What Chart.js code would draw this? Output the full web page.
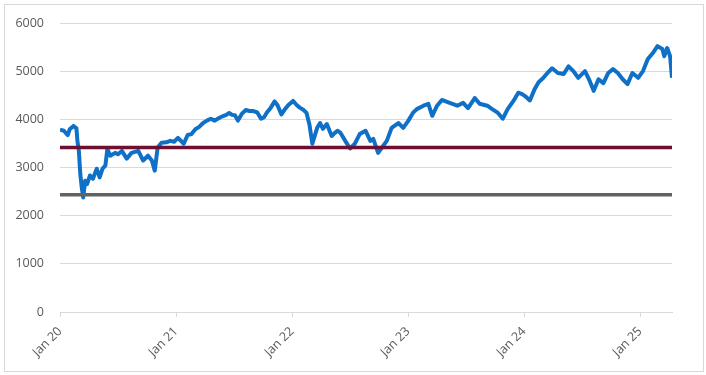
<!DOCTYPE html>
<html>
<head>
<meta charset="utf-8">
<script src="https://cdn.jsdelivr.net/npm/chart.js@4.4.1/dist/chart.umd.min.js"></script>
<style>
  body { margin: 0; background: #fff; }
  #wrap { position: relative; width: 706px; height: 375px; }
  #frame { position: absolute; left: 4px; top: 4px; width: 698px; height: 366px; border: 1px solid #d9d9d9; pointer-events: none; }
</style>
</head>
<body>
<div id="wrap">
  <canvas id="chart" width="706" height="375"></canvas>
  <div id="frame"></div>
</div>
<script>
// months since Jan 2020, index level
var months = [
  0, 0.4, 0.8, 1.0, 1.4, 1.7, 1.8, 1.95, 2.1, 2.25, 2.4, 2.6, 2.8, 3.1, 3.4, 3.8, 4.1, 4.4, 4.7, 4.9,
  5.2, 5.7, 6.0, 6.4, 6.9, 7.4, 8.1, 8.6, 9.1, 9.5, 9.8, 10.1, 10.5, 11.0, 11.4,
  11.8, 12.2, 12.8, 13.2, 13.6, 14.0, 14.4, 14.8, 15.2, 15.6, 16.0, 16.4, 16.8, 17.2, 17.5, 17.8,
  18.1, 18.4, 18.8, 19.2, 19.6, 20.0, 20.4, 20.8, 21.1, 21.4, 21.8, 22.2, 22.5, 22.9, 23.2, 23.6,
  24.1, 24.5, 24.8, 25.2, 25.5, 25.8, 26.1, 26.4, 26.6, 26.9, 27.2, 27.6, 28.1, 28.4, 28.7, 29.0,
  29.5, 30.0, 30.5, 31.0, 31.6, 32.1, 32.4, 32.9, 33.3, 33.8, 34.3, 35.0, 35.5,
  36.0, 36.5, 36.9, 37.6, 38.1, 38.5, 39.0, 39.5, 40.3, 41.1, 41.7, 42.2, 42.9, 43.4, 44.2, 44.7,
  45.3, 45.8, 46.3, 46.9, 47.4, 47.8,
  48.1, 48.6, 49.1, 49.5, 50.0, 50.5, 50.9, 51.5, 52.1, 52.6, 53.1, 53.6, 54.3, 54.8, 55.2, 55.7,
  56.2, 56.7, 57.2, 57.7, 58.2, 58.7, 59.2, 59.8, 60.3, 60.8, 61.3, 61.8, 62.3, 62.5, 62.8, 63.1, 63.3
];
var levels = [
  3790, 3770, 3680, 3800, 3870, 3820, 3560, 3350, 2870, 2590, 2380, 2730, 2660, 2840, 2770, 2980, 2800, 2980, 3050, 3390,
  3250, 3310, 3280, 3350, 3190, 3310, 3350, 3150, 3250, 3150, 2940, 3420, 3520, 3530, 3560,
  3540, 3620, 3500, 3680, 3700, 3800, 3850, 3930, 3980, 4020, 3980, 4030, 4070, 4100, 4140, 4100,
  4090, 3980, 4120, 4200, 4180, 4180, 4150, 4020, 4050, 4150, 4250, 4380, 4300, 4110, 4200, 4300,
  4390, 4300, 4250, 4200, 4140, 3900, 3500, 3700, 3830, 3930, 3810, 3910, 3660, 3720, 3770, 3730,
  3560, 3400, 3500, 3700, 3770, 3560, 3600, 3310, 3420, 3560, 3830, 3930, 3830,
  3970, 4140, 4220, 4290, 4330, 4080, 4290, 4410, 4350, 4290, 4350, 4240, 4450, 4330, 4290, 4220,
  4140, 4020, 4220, 4390, 4560, 4530,
  4490, 4400, 4640, 4780, 4870, 4990, 5070, 4970, 4950, 5110, 5010, 4870, 5010, 4800, 4600, 4840,
  4760, 4970, 5050, 4970, 4840, 4740, 4970, 4870, 5010, 5260, 5380, 5530, 5470, 5320, 5490, 5320, 4870
];

// horizontal reference levels
var upperLevel = 3420;
var lowerLevel = 2440;
var lastMonth = 63.3;

var tickMonths = [0, 12, 24, 36, 48, 60];
var tickLabels = ['Jan 20', 'Jan 21', 'Jan 22', 'Jan 23', 'Jan 24', 'Jan 25'];

var seriesPoints = months.map(function(m, i) { return {x: m, y: levels[i]}; });

function flatLine(v) {
  return [{x: 0, y: v}, {x: lastMonth, y: v}];
}

var data = {
  datasets: [
    {
      data: flatLine(upperLevel),
      borderColor: '#6e0e30',
      borderWidth: 3.5,
      pointRadius: 0
    },
    {
      data: flatLine(lowerLevel),
      borderColor: '#626262',
      borderWidth: 3.5,
      pointRadius: 0
    },
    {
      data: seriesPoints,
      borderColor: '#0f70c8',
      borderWidth: 4,
      pointRadius: 0,
      tension: 0,
      borderJoinStyle: 'round'
    }
  ]
};

var font = {family: '"Open Sans", sans-serif', size: 12.5};

new Chart(document.getElementById('chart'), {
  type: 'line',
  data: data,
  options: {
    responsive: false,
    animation: false,
    devicePixelRatio: 1,
    layout: {padding: {left: 0, top: 22, right: 34, bottom: 0}},
    plugins: {
      legend: {display: false},
      tooltip: {enabled: false}
    },
    scales: {
      x: {
        type: 'linear',
        min: 0,
        max: lastMonth,
        afterBuildTicks: function(scale) {
          scale.ticks = tickMonths.map(function(v) { return {value: v}; });
        },
        afterFit: function(scale) { scale.height = 63; },
        ticks: {
          color: '#595959',
          font: font,
          maxRotation: 45,
          minRotation: 45,
          padding: 7,
          callback: function(value) {
            var i = tickMonths.indexOf(value);
            return i >= 0 ? tickLabels[i] : '';
          }
        },
        grid: {drawOnChartArea: false, color: '#d9d9d9', tickLength: 5},
        border: {color: '#d9d9d9'}
      },
      y: {
        min: 0,
        max: 6000,
        afterFit: function(scale) { scale.width = 60; },
        ticks: {
          stepSize: 1000,
          color: '#595959',
          font: font,
          padding: 16,
          crossAlign: 'near',
          callback: function(value) { return String(value); }
        },
        grid: {color: '#d9d9d9', drawTicks: false},
        border: {display: false}
      }
    }
  }
});
</script>
</body>
</html>
